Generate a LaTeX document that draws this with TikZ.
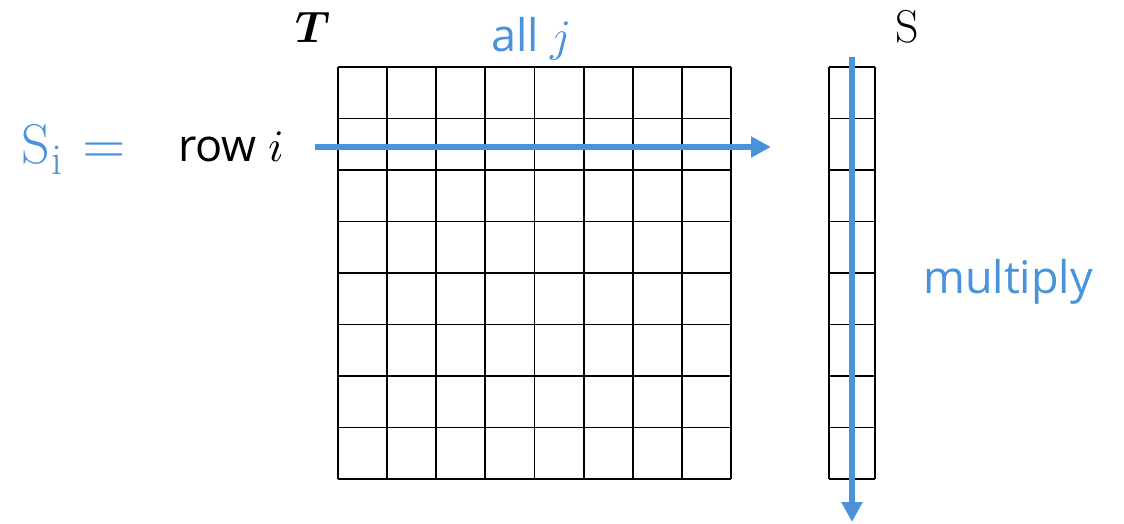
\documentclass[tikz,border=0pt]{standalone}
\usepackage{fontspec}
\usepackage{unicode-math}
\newfontfamily\labelfont{Open Sans}
\usetikzlibrary{arrows.meta}
\definecolor{accent}{RGB}{74,146,218}
\begin{document}
\begin{tikzpicture}[x=1pt,y=-1pt,
  gridline/.style={draw=black,line width=1.8pt},
  flow/.style={draw=accent,line width=6.5pt,-{Triangle[length=20pt,width=20pt]}},
  lab/.style={inner sep=0pt,anchor=base west},
  sans/.style={font=\labelfont\fontsize{45}{52}\selectfont},
]
\useasboundingbox (0,0) rectangle (1124,524);
% T grid
\foreach \k in {0,...,8}{
  \draw[gridline] ({338+\k*393/8},67) -- ({338+\k*393/8},479);
  \draw[gridline] (338,{67+\k*412/8}) -- (731,{67+\k*412/8});
}
% S column
\foreach \k in {0,...,8}{
  \draw[gridline] (829,{67+\k*412/8}) -- (875,{67+\k*412/8});
}
\draw[gridline] (829,67) -- (829,479);
\draw[gridline] (875,67) -- (875,479);
% labels
\node[lab,text=accent,font=\fontsize{56}{60}\selectfont] (si) at (21,163) {S\kern2pt\raisebox{-12pt}{\fontsize{44}{48}\selectfont i}\kern20pt$=$};
\node[lab,sans] (row) at (178,161) {row $i$};
\node[lab,text=accent,sans] (allj) at (491,52) {all $j$};
\node[lab,font=\fontsize{44}{50}\selectfont] (T) at (295,43) {$\symbfit{T}$};
\node[lab,font=\fontsize{46}{50}\selectfont] (S) at (895,43) {S};
\node[lab,text=accent,sans] (mult) at (923,293) {multiply};
% arrows
\coordinate (h0) at (315,147);
\coordinate (h1) at (771,147);
\coordinate (v0) at (852,57);
\coordinate (v1) at (852,522);
\draw[flow] (h0) -- (h1);
\draw[flow] (v0) -- (v1);
\end{tikzpicture}
\end{document}
